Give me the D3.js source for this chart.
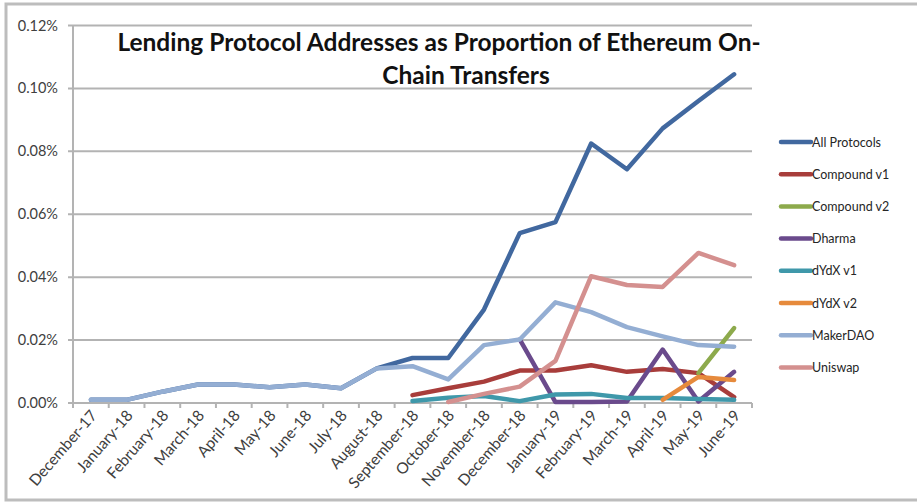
<!DOCTYPE html>
<html>
<head>
<meta charset="utf-8">
<script src="https://cdn.jsdelivr.net/npm/d3@7"></script>
<style>
  html, body { margin: 0; padding: 0; background: #fff; }
  svg { display: block; font-family: Lato, "Open Sans", sans-serif; }
</style>
</head>
<body>
<svg id="chart" width="917" height="504"></svg>
<script>
const months = ["December-17","January-18","February-18","March-18","April-18","May-18","June-18","July-18","August-18","September-18","October-18","November-18","December-18","January-19","February-19","March-19","April-19","May-19","June-19"];

// values in percent (%); null = no data
const allProtocols = [0.001,0.001,0.0036,0.0059,0.0059,0.005,0.0059,0.0047,0.011,0.0143,0.0143,0.0297,0.054,0.0575,0.0825,0.0743,0.0873,0.096,0.1045];
const compoundV1   = [null,null,null,null,null,null,null,null,null,0.0025,0.0047,0.0068,0.0103,0.0103,0.012,0.0099,0.0108,0.0095,0.0019];
const compoundV2   = [null,null,null,null,null,null,null,null,null,null,null,null,null,null,null,null,null,0.0095,0.0238];
const dharma       = [null,null,null,null,null,null,null,null,null,null,null,null,0.0202,0.0003,0.0003,0.0005,0.017,0.0005,0.0099];
const dydxV1       = [null,null,null,null,null,null,null,null,null,0.0006,0.0017,0.0022,0.0006,0.0027,0.0029,0.0016,0.0016,0.0013,0.001];
const dydxV2       = [null,null,null,null,null,null,null,null,null,null,null,null,null,null,null,null,0.001,0.0083,0.0073];
const makerDAO     = [0.001,0.001,0.0036,0.0059,0.0059,0.005,0.0059,0.0047,0.011,0.0117,0.0075,0.0184,0.0202,0.032,0.0289,0.0241,0.0212,0.0184,0.0179];
const uniswap      = [null,null,null,null,null,null,null,null,null,null,0.0003,0.0029,0.0052,0.0134,0.0403,0.0375,0.0369,0.0477,0.0438];

const yTicks = [0, 0.02, 0.04, 0.06, 0.08, 0.10, 0.12];

const seriesNames  = ["All Protocols","Compound v1","Compound v2","Dharma","dYdX v1","dYdX v2","MakerDAO","Uniswap"];
const seriesValues = [allProtocols, compoundV1, compoundV2, dharma, dydxV1, dydxV2, makerDAO, uniswap];
const seriesColors = ["#41689f","#a83d3b","#8daa4c","#6a4a8c","#3f98aa","#e68a3c","#94aed3","#d4908f"];

const title1 = "Lending Protocol Addresses as Proportion of Ethereum On-";
const title2 = "Chain Transfers";

const svg = d3.select("#chart");

// outer frame
svg.append("rect").attr("x", 6).attr("y", 4).attr("width", 930).attr("height", 496)
  .attr("fill", "none").attr("stroke", "#bdbdbd").attr("stroke-width", 3);

const pL = 73, pR = 752, pT = 25.5, pB = 403;

const x = d3.scaleBand().domain(months).range([pL, pR]).padding(0);
const y = d3.scaleLinear().domain([0, 0.12]).range([pB, pT]);
const cx = m => x(m) + x.bandwidth() / 2;

// gridlines
svg.append("g").selectAll("line").data(yTicks).join("line")
  .attr("x1", pL - 5).attr("x2", pR)
  .attr("y1", d => y(d)).attr("y2", d => y(d))
  .attr("stroke", "#b3b3b3").attr("stroke-width", 2);

// y axis line
svg.append("line").attr("x1", pL).attr("x2", pL).attr("y1", pT).attr("y2", pB)
  .attr("stroke", "#b3b3b3").attr("stroke-width", 2);

// x tick marks (between categories)
const bounds = months.map(m => x(m)).concat([pR]);
svg.append("g").selectAll("line").data(bounds).join("line")
  .attr("x1", d => d).attr("x2", d => d).attr("y1", pB).attr("y2", pB + 5)
  .attr("stroke", "#b3b3b3").attr("stroke-width", 2);

// y labels
svg.append("g").selectAll("text").data(yTicks).join("text")
  .attr("x", 58).attr("y", d => y(d) + 5)
  .attr("text-anchor", "end").attr("font-size", 14.5).attr("fill", "#404040")
  .text(d => d.toFixed(2) + "%");

// x labels
svg.append("g").selectAll("text").data(months).join("text")
  .attr("text-anchor", "end").attr("font-size", 15.5).attr("fill", "#404040")
  .attr("transform", m => `translate(${cx(m) + 7},${pB + 13}) rotate(-49)`)
  .text(m => m);

// lines
const line = d3.line()
  .defined(d => d.v !== null)
  .x(d => cx(d.m)).y(d => y(d.v));

seriesValues.forEach((vals, i) => {
  const data = months.map((m, j) => ({ m, v: vals[j] }));
  svg.append("path").datum(data)
    .attr("d", line)
    .attr("fill", "none").attr("stroke", seriesColors[i])
    .attr("stroke-width", 4.5).attr("stroke-linejoin", "round").attr("stroke-linecap", "round");
});

// title
svg.append("text").attr("x", 439).attr("y", 51).attr("text-anchor", "middle")
  .attr("font-size", 24.5).attr("font-weight", "bold").attr("fill", "#111").text(title1);
svg.append("text").attr("x", 466).attr("y", 84).attr("text-anchor", "middle")
  .attr("font-size", 24.5).attr("font-weight", "bold").attr("fill", "#111").text(title2);

// legend
const lg = svg.append("g");
seriesNames.forEach((name, i) => {
  const yy = 142 + i * 32.2;
  lg.append("line").attr("x1", 781).attr("x2", 811).attr("y1", yy).attr("y2", yy)
    .attr("stroke", seriesColors[i]).attr("stroke-width", 4.5).attr("stroke-linecap", "round");
  lg.append("text").attr("x", 812).attr("y", yy + 4.5).attr("font-size", 12.5)
    .attr("fill", "#262626").text(name);
});
</script>
</body>
</html>
